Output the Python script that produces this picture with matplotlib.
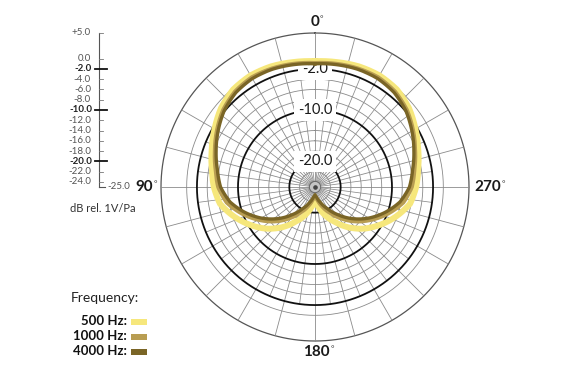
import numpy as np
import matplotlib
matplotlib.use('Agg')
import matplotlib.pyplot as plt
from matplotlib.patches import Rectangle

plt.rcParams['font.family'] = ['Lato', 'DejaVu Sans']

# ---------------- data ----------------
angles_deg = list(range(0, 361, 10))
db_500 = [-0.5, -0.3, 0.0, 0.1, -0.2, -1.1, -2.4, -3.6, -4.6, -5.3,
          -6.2, -8.2, -10.3, -12.4, -14.7, -17.1, -19.1, -21.0, -22.6,
          -21.0, -19.1, -17.1, -14.7, -12.4, -10.3, -8.2, -6.2,
          -5.3, -4.6, -3.6, -2.4, -1.1, -0.2, 0.1, 0.0, -0.3, -0.5]
db_1000 = [-0.8, -0.6, -0.4, -0.3, -0.7, -1.6, -2.9, -4.2, -5.3, -6.1,
           -7.5, -9.8, -12.2, -14.5, -16.9, -19.1, -20.9, -22.4, -23.2,
           -22.4, -20.9, -19.1, -16.9, -14.5, -12.2, -9.8, -7.5,
           -6.1, -5.3, -4.2, -2.9, -1.6, -0.7, -0.3, -0.4, -0.6, -0.8]
db_4000 = [-1.0, -0.8, -0.6, -0.6, -1.0, -1.9, -3.2, -4.5, -5.7, -6.6,
           -8.2, -10.5, -12.9, -15.4, -17.9, -20.1, -21.7, -22.9, -23.5,
           -22.9, -21.7, -20.1, -17.9, -15.4, -12.9, -10.5, -8.2,
           -6.6, -5.7, -4.5, -3.2, -1.9, -1.0, -0.6, -0.6, -0.8, -1.0]

series_labels = ['500 Hz:', '1000 Hz:', '4000 Hz:']
series_colors = ['#F6E77C', '#B89D52', '#7A6526']

r_min, r_max = -25.0, 5.0
ring_levels = [0, -2, -4, -6, -8, -10, -12, -14, -16, -18, -20, -22, -24]
major_rings = [-2.0, -10.0, -20.0]
ring_labels = ['-2.0', '-10.0', '-20.0']
scale_ticks = [5.0, 0.0, -2.0, -4.0, -6.0, -8.0, -10.0, -12.0, -14.0, -16.0,
               -18.0, -20.0, -22.0, -24.0]
scale_tick_labels = ['+5.0', '0.0', '-2.0', '-4.0', '-6.0', '-8.0', '-10.0',
                     '-12.0', '-14.0', '-16.0', '-18.0', '-20.0', '-22.0', '-24.0']
angle_labels = ['0', '90', '180', '270']

# ---------------- figure ----------------
W, H = 567, 380
fig = plt.figure(figsize=(W / 100, H / 100), dpi=100)
cx, cy, R = 315, 187, 154

def fx(x):
    return x / W

def fy(y):
    return 1 - y / H

ax = fig.add_axes([(cx - R) / W, (H - cy - R) / H, 2 * R / W, 2 * R / H],
                  projection='polar')
ax.set_theta_zero_location('N')
ax.set_theta_direction(1)
ax.set_ylim(r_min, r_max)
ax.grid(False)
ax.set_xticks([])
ax.set_yticks([])
ax.spines['polar'].set_visible(False)
ax.patch.set_alpha(0)

th = np.linspace(0, 2 * np.pi, 721)
grid_col = '#8a8a8a'
ax.plot(th, np.full_like(th, r_max), color='#555555', lw=0.9, zorder=1, clip_on=False)
for lv in ring_levels:
    if lv in major_rings:
        ax.plot(th, np.full_like(th, lv), color='#111111', lw=1.3, zorder=1.2)
    else:
        ax.plot(th, np.full_like(th, lv), color=grid_col, lw=0.6, zorder=1)
for a in range(0, 360, 15):
    t = np.deg2rad(a)
    ax.plot([t, t], [r_min, r_max], color=grid_col, lw=0.6, zorder=1, clip_on=False)
for a in np.arange(7.5, 360, 15):
    t = np.deg2rad(a)
    ax.plot([t, t], [r_min, -2.0], color=grid_col, lw=0.55, zorder=1)

# center hub
ax.fill_between(th, r_min, -23.9, color='#c4c4c4', zorder=1.5, lw=0)
ax.plot(th, np.full_like(th, -23.9), color='#6a6a6a', lw=0.7, zorder=1.6)
ax.plot([0], [r_min], 'o', ms=2.3, color='#444444', zorder=1.7)

# ring labels
for lv, lab in zip(major_rings, ring_labels):
    ax.text(0, lv, lab, ha='center', va='center', fontsize=10.5,
            color='#1a1a1a', zorder=2,
            bbox=dict(boxstyle='square,pad=0.25', fc='white', ec='none'))

# curves
th_data = np.deg2rad(angles_deg)
for vals, col, lw in zip([db_500, db_1000, db_4000], series_colors, [4.3, 2.6, 2.4]):
    ln, = ax.plot(th_data, vals, color=col, lw=lw, zorder=3, solid_joinstyle='round')
    ln.get_path()._interpolation_steps = 24

# angle labels
def deg_label(x, y, s, weight):
    t = fig.text(fx(x), fy(y), s, ha='left', va='center', fontsize=11,
                 fontweight=weight, color='#1a1a1a')
    ax.annotate('°', xy=(1.02, 0.95), xycoords=t, fontsize=6,
                ha='left', va='top', color='#333333', annotation_clip=False)
    return t

deg_label(310.5, 22, angle_labels[0], 'bold')
deg_label(135.5, 187, angle_labels[1], 'bold')
deg_label(303.5, 352, angle_labels[2], 'bold')
deg_label(474.5, 187, angle_labels[3], 'bold')

# ---------------- left dB scale ----------------
sx0, sw = 60, 80
sax = fig.add_axes([sx0 / W, (H - cy) / H, sw / W, R / H])
sax.set_xlim(sx0, sx0 + sw)
sax.set_ylim(r_min, r_max)
sax.axis('off')
line_x = 99
sax.plot([line_x, line_x], [r_min, r_max], color='#555555', lw=0.8, clip_on=False)
sax.plot([line_x, line_x + 6], [r_min, r_min], color='#555555', lw=0.8, clip_on=False)
for t, lab in zip(scale_ticks, scale_tick_labels):
    major = t in major_rings
    if major:
        sax.plot([line_x - 4, line_x + 8], [t, t], color='#111111', lw=1.3, clip_on=False)
    else:
        sax.plot([line_x, line_x + 4], [t, t], color='#777777', lw=0.6, clip_on=False)
    sax.text(line_x - 7 if major else line_x - 8, t, lab, ha='right', va='center',
             fontsize=7, fontweight='bold' if major else 'normal',
             color='#222222' if major else '#555555')
sax.text(line_x + 8, r_min, '-25.0', ha='left', va='center', fontsize=7, color='#555555')

fig.text(fx(70), fy(208), 'dB rel. 1V/Pa', ha='left', va='center', fontsize=8,
         color='#333333')

# ---------------- legend ----------------
fig.text(fx(71), fy(298), 'Frequency:', ha='left', va='center', fontsize=10,
         color='#222222')
leg_y = [321, 336, 351]
for lab, col, yy in zip(series_labels, series_colors, leg_y):
    fig.text(fx(127), fy(yy), lab, ha='right', va='center', fontsize=9.5,
             fontweight='bold', color='#111111')
    fig.patches.append(Rectangle((fx(131), fy(yy + 3.5)), 16 / W, 5.5 / H,
                                 transform=fig.transFigure, fc=col, ec='none'))

fig.savefig('out.png', dpi=100)
